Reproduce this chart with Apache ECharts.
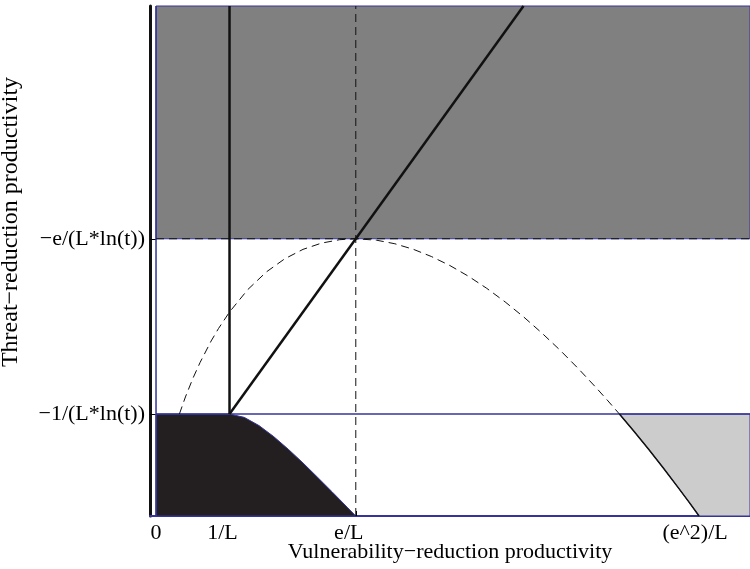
<!DOCTYPE html>
<html><head><meta charset="utf-8">
<script src="https://cdn.jsdelivr.net/npm/echarts@6/dist/echarts.min.js"></script>
<style>html,body{margin:0;padding:0;background:#fff}#c{width:750px;height:569px}</style>
</head><body><div id="c"></div>
<script>
// Units: x in 1/L, y in -1/(L*ln(t))
const xTicks = [0, 1, 2.718, 7.389];
const xTickLabels = ['0', '1/L', 'e/L', '(e^2)/L'];
const yTicks = [1, 2.718];
const yTickLabels = ['−1/(L*ln(t))', '−e/(L*ln(t))'];
const xRange = [-0.082, 8.082];
const yRange = [0, 5];

const darkRegion = [[0, 2.718], [8.082, 2.718], [8.082, 5], [0, 5]];
const blackRegion = [[0, 0], [0, 1], [1, 1], [1.2, 0.967], [1.4, 0.887], [1.6, 0.779], [1.8, 0.654],
  [2.0, 0.520], [2.2, 0.378], [2.4, 0.234], [2.6, 0.087], [2.718, 0]];
const lightEdge = [[6.305, 1], [6.5, 0.833], [6.7, 0.656], [6.9, 0.473], [7.1, 0.283], [7.25, 0.138], [7.389, 0]];
const lightRegion = [[6.305, 1], [6.5, 0.833], [6.7, 0.656], [6.9, 0.473], [7.1, 0.283], [7.25, 0.138], [7.389, 0],
  [8.082, 0], [8.082, 1]];
const dashedCurve = [[0.318, 1.0], [0.4, 1.167], [0.5, 1.347], [0.6, 1.506], [0.75, 1.716], [0.85, 1.838],
  [1.0, 2.0], [1.25, 2.221], [1.5, 2.392], [1.75, 2.521], [2.0, 2.614], [2.25, 2.675], [2.5, 2.709],
  [2.718, 2.718], [3.0, 2.704], [3.25, 2.669], [3.5, 2.615], [3.75, 2.543], [4.0, 2.455], [4.25, 2.351],
  [4.5, 2.232], [4.75, 2.099], [5.0, 1.953], [5.25, 1.794], [5.5, 1.624], [5.75, 1.442], [6.0, 1.249],
  [6.15, 1.128], [6.305, 1.0]];
const verticalLine = [[1, 1], [1, 5]];
const diagonalLine = [[1, 1], [5, 5]];
const dashedVertical = [[2.718, 0], [2.718, 5]];
const dashedHorizontal = [[0, 2.718], [8.082, 2.718]];
const levelLine = [[0, 1], [8.082, 1]];
const leftEdge = [[0, 0], [0, 5]];

const BLUE = '#34349a';
const FONT = 'Liberation Serif';

function poly(pts, fill, z) {
  return {
    type: 'custom', data: pts, z: z, silent: true, animation: false,
    renderItem: function (params, api) {
      if (params.dataIndex !== 0) return null;
      return {
        type: 'polygon',
        shape: { points: pts.map(function (p) { return api.coord(p); }) },
        style: { fill: fill, stroke: BLUE, lineWidth: 1 }
      };
    }
  };
}
function line(pts, color, width, type, z) {
  return {
    type: 'line', data: pts, symbol: 'none', showSymbol: false, silent: true, animation: false, z: z,
    lineStyle: { color: color, width: width, type: type }
  };
}
function idx(arr, v) {
  for (let i = 0; i < arr.length; i++) if (Math.abs(arr[i] - v) < 1e-6) return i;
  return -1;
}

const chart = echarts.init(document.getElementById('c'), null, { renderer: 'canvas' });
chart.setOption({
  animation: false,
  backgroundColor: '#fff',
  grid: { left: 150, right: 0, top: 6, bottom: 53, containLabel: false, outerBoundsMode: 'none' },
  xAxis: {
    type: 'value', min: xRange[0], max: xRange[1],
    splitLine: { show: false },
    axisLine: { show: true, onZero: false, lineStyle: { color: BLUE, width: 2 } },
    axisTick: { show: true, inside: true, length: 5, customValues: xTicks, lineStyle: { color: '#000' } },
    axisLabel: {
      customValues: xTicks, color: '#000', fontFamily: FONT, fontSize: 22, margin: 6,
      formatter: function (v) { const i = idx(xTicks, v); return i < 0 ? '' : '{p' + i + '|' + xTickLabels[i] + '}'; },
      rich: {
        p0: { fontFamily: FONT, fontSize: 22, color: '#000' },
        p1: { fontFamily: FONT, fontSize: 22, color: '#000', padding: [0, 14, 0, 0] },
        p2: { fontFamily: FONT, fontSize: 22, color: '#000', padding: [0, 14, 0, 0] },
        p3: { fontFamily: FONT, fontSize: 22, color: '#000', padding: [0, 8, 0, 0] }
      }
    },
    name: 'Vulnerability−reduction productivity', nameLocation: 'middle', nameGap: 25, nameMoveOverlap: false,
    nameTextStyle: { fontFamily: FONT, fontSize: 22, color: '#000' }
  },
  yAxis: {
    type: 'value', min: yRange[0], max: yRange[1],
    splitLine: { show: false },
    axisLine: { show: true, onZero: false, lineStyle: { color: '#111', width: 3 } },
    axisTick: { show: true, inside: true, length: 6, customValues: yTicks, lineStyle: { color: '#000' } },
    axisLabel: {
      customValues: yTicks, color: '#000', fontFamily: FONT, fontSize: 22, margin: 5,
      formatter: function (v) { const i = idx(yTicks, v); return i < 0 ? '' : yTickLabels[i]; }
    },
    name: 'Threat−reduction productivity', nameLocation: 'middle', nameGap: 127, nameMoveOverlap: false,
    nameTextStyle: { fontFamily: FONT, fontSize: 24, color: '#000', padding: [0, 0, 0, 78] }
  },
  series: [
    poly(darkRegion, '#808080', 1),
    poly(blackRegion, '#231f20', 2),
    poly(lightRegion, '#cccccc', 2),
    line(levelLine, BLUE, 1.5, 'solid', 3),
    line(leftEdge, BLUE, 1.5, 'solid', 3),
    line(dashedHorizontal, '#111', 1, [8, 5], 4),
    line(dashedVertical, '#111', 1, [8, 5], 4),
    line(dashedCurve, '#111', 1, [8, 5], 4),
    line(lightEdge, '#111', 1.5, 'solid', 4),
    line(verticalLine, '#111', 2.5, 'solid', 5),
    line(diagonalLine, '#111', 2.5, 'solid', 5)
  ]
});
</script>
</body></html>
